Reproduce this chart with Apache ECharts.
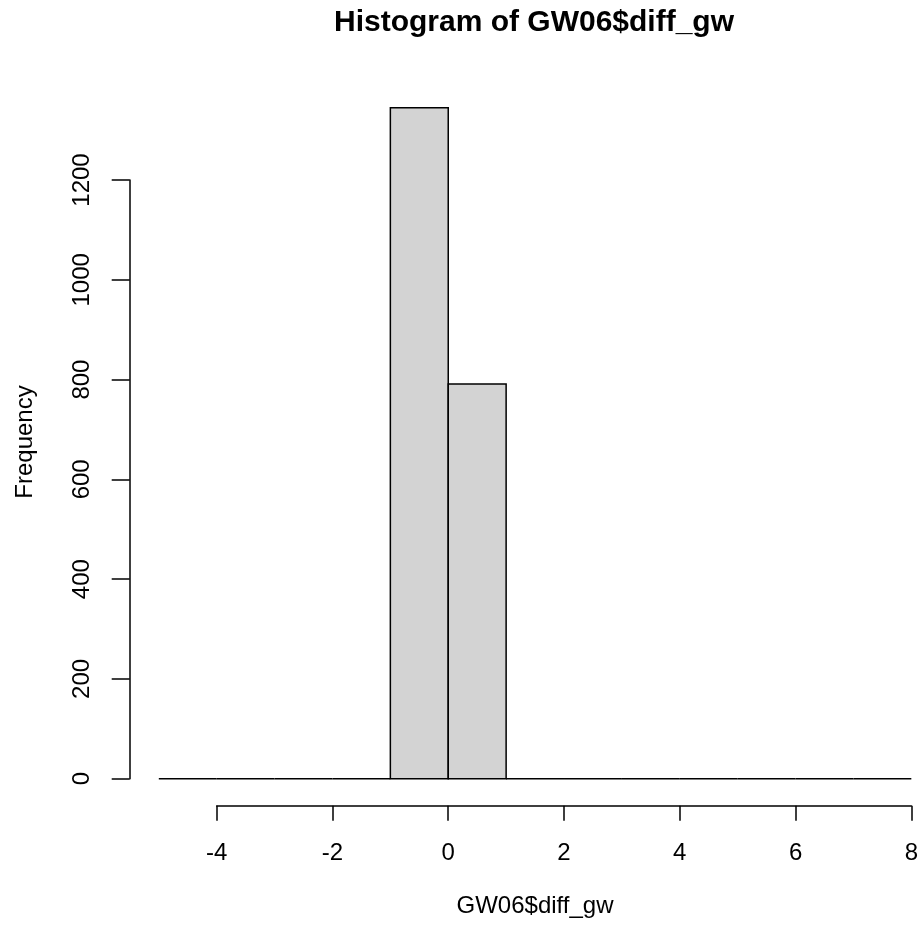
<!DOCTYPE html>
<html>
<head>
<meta charset="utf-8">
<title>Histogram of GW06$diff_gw</title>
<script src="https://cdn.jsdelivr.net/npm/echarts@6/dist/echarts.min.js"></script>
<style>
    html, body { margin: 0; padding: 0; background: #fff; }
    #main { width: 921px; height: 930px; }
</style>
</head>
<body>
<div id="main"></div>
<script>
// 直方图数据
var binStarts = [-5, -4, -3, -2, -1, 0, 1, 2, 3, 4, 5, 6, 7];
var binEnds = [-4, -3, -2, -1, 0, 1, 2, 3, 4, 5, 6, 7, 8];
var counts = [0, 0, 0, 0, 1345, 791, 0, 0, 0, 0, 0, 0, 0];
var xTicks = [-4, -2, 0, 2, 4, 6, 8];
var yTicks = [0, 200, 400, 600, 800, 1000, 1200];

var titleText = 'Histogram of GW06$diff_gw';
var xName = 'GW06$diff_gw';
var yName = 'Frequency';

(function () {
    var myChart = echarts.init(document.getElementById('main'), null, { renderer: 'canvas' });

    var data = [];
    for (var i = 0; i < counts.length; i++) {
        data.push([binStarts[i], binEnds[i], counts[i]]);
    }

    var font = 'Liberation Sans, Arial, sans-serif';
    var lineColor = '#000';

    // 画每个柱子 (包括高度为0的)
    function renderItem(params, api) {
        var p0 = api.coord([api.value(0), api.value(2)]);
        var p1 = api.coord([api.value(1), 0]);
        return {
            type: 'rect',
            shape: { x: p0[0], y: p0[1], width: p1[0] - p0[0], height: p1[1] - p0[1] },
            style: { fill: '#d3d3d3', stroke: lineColor, lineWidth: 1.5 }
        };
    }

    var option = {
        backgroundColor: '#fff',
        animation: false,
        grid: {
            left: 216.7,
            right: 9.3,
            top: 180,
            bottom: 151.3
        },
        xAxis: {
            type: 'value',
            min: xTicks[0],
            max: xTicks[xTicks.length - 1],
            interval: 2,
            offset: 27,
            axisLine: { show: true, onZero: false, lineStyle: { color: lineColor, width: 1.5 } },
            axisTick: { show: true, length: 15, lineStyle: { color: lineColor, width: 1.5 } },
            axisLabel: { color: '#000', fontSize: 24, fontFamily: font, margin: 36 },
            splitLine: { show: false }
        },
        yAxis: {
            type: 'value',
            min: yTicks[0],
            max: yTicks[yTicks.length - 1],
            interval: 200,
            offset: 87,
            axisLine: { show: true, onZero: false, lineStyle: { color: lineColor, width: 1.5 } },
            axisTick: { show: true, length: 18, lineStyle: { color: lineColor, width: 1.5 } },
            axisLabel: {
                color: '#000', fontSize: 24, fontFamily: font, rotate: 90, margin: 35,
                formatter: function (v) { return String(v); }
            },
            splitLine: { show: false }
        },
        graphic: [
            {
                type: 'text',
                x: 534,
                y: 23,
                style: { text: titleText, fill: '#000', font: 'bold 30px ' + font, align: 'center', verticalAlign: 'middle' }
            },
            {
                type: 'text',
                x: 535,
                y: 906,
                style: { text: xName, fill: '#000', font: '24px ' + font, align: 'center', verticalAlign: 'middle' }
            },
            {
                type: 'text',
                x: 25,
                y: 442,
                rotation: Math.PI / 2,
                style: { text: yName, fill: '#000', font: '24px ' + font, align: 'center', verticalAlign: 'middle' }
            }
        ],
        series: [
            {
                type: 'custom',
                renderItem: renderItem,
                clip: false,
                encode: { x: [0, 1], y: 2 },
                data: data
            }
        ]
    };

    myChart.setOption(option);

    window.addEventListener('resize', function () {
        myChart.resize();
    });
})();
</script>
</body>
</html>
